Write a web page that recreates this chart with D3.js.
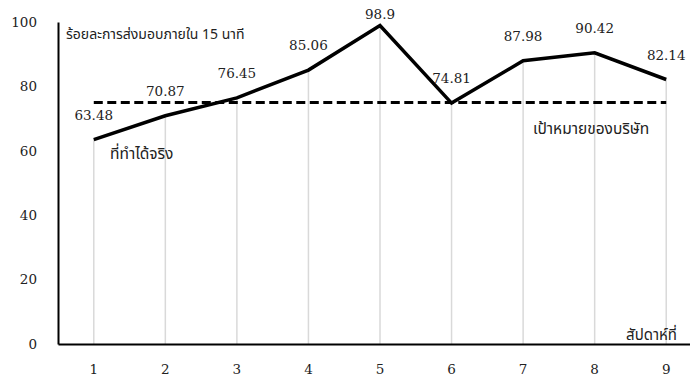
<!DOCTYPE html>
<html><head><meta charset="utf-8">
<script src="https://cdn.jsdelivr.net/npm/d3@7"></script>
<style>body{margin:0;background:#fff}svg{display:block}</style>
</head><body><svg id="c" width="690" height="381"></svg>
<script>
const weeks = [1,2,3,4,5,6,7,8,9];
const actual = [63.48,70.87,76.45,85.06,98.9,74.81,87.98,90.42,82.14];
const target = [75,75,75,75,75,75,75,75,75];
const yTicks = [0,20,40,60,80,100];
const titleText = "ร้อยละการส่งมอบภายใน 15 นาที";
const actualLabel = "ที่ทำได้จริง";
const targetLabel = "เป้าหมายของบริษัท";
const xAxisLabel = "สัปดาห์ที่";

const svg = d3.select("#c");
const numFont = "'DejaVu Serif',serif";
const thaiFont = "'Noto Sans Thai','Noto Sans','Noto Sans CJK SC',sans-serif";
const x = d3.scaleBand().domain(weeks).range([58, 702]).padding(0);
const cx = d => x(d) + x.bandwidth()/2;
const y = d3.scaleLinear().domain([0,100]).range([344, 22]);

// drop lines
svg.append("g").selectAll("line").data(weeks).join("line")
  .attr("x1", (d)=>cx(d)).attr("x2", d=>cx(d))
  .attr("y1", (d,i)=>y(actual[i])).attr("y2", y(0))
  .attr("stroke", "#d9d9d9").attr("stroke-width", 1.5);

// y axis
const ya = svg.append("g").attr("transform","translate(58,0)")
  .call(d3.axisLeft(y).tickValues(yTicks).tickSize(0).tickPadding(21));
ya.select(".domain").attr("stroke","#000").attr("stroke-width",2);
ya.selectAll("text").attr("font-family", numFont).attr("font-size", 13.5).attr("fill","#222");

// x axis
const xa = svg.append("g").attr("transform",`translate(0,${y(0)})`)
  .call(d3.axisBottom(x).tickSize(0).tickPadding(20));
xa.select(".domain").attr("stroke","#000").attr("stroke-width",2);
xa.selectAll("text").attr("font-family", numFont).attr("font-size", 13.5).attr("fill","#222");

// target line
svg.append("path").datum(target)
  .attr("d", d3.line().x((d,i)=>cx(weeks[i])).y(d=>y(d)))
  .attr("fill","none").attr("stroke","#000").attr("stroke-width",3)
  .attr("stroke-dasharray","9,4.5");

// actual line
svg.append("path").datum(actual)
  .attr("d", d3.line().x((d,i)=>cx(weeks[i])).y(d=>y(d)))
  .attr("fill","none").attr("stroke","#000").attr("stroke-width",3.5)
  .attr("stroke-linejoin","miter");

// data labels (kept inside the plot area)
svg.append("g").selectAll("text").data(actual).join("text")
  .attr("x",(d,i)=>cx(weeks[i])).attr("y", d=>Math.max(y(d)-20, 19))
  .attr("text-anchor","middle").attr("font-family", numFont).attr("font-size", 13.5)
  .attr("fill","#222").text(d=>d);

// texts
svg.append("text").attr("x",66).attr("y",39).attr("font-family",thaiFont)
  .attr("font-size",14).attr("fill","#222").text(titleText);
svg.append("text").attr("x",110).attr("y",159).attr("font-family",thaiFont)
  .attr("font-size",15.5).attr("fill","#222").text(actualLabel);
svg.append("text").attr("x",533).attr("y",134).attr("font-family",thaiFont)
  .attr("font-size",15.5).attr("fill","#222").text(targetLabel);
svg.append("text").attr("x",677).attr("y",340).attr("text-anchor","end").attr("font-family",thaiFont)
  .attr("font-size",15).attr("fill","#222").text(xAxisLabel);
</script></body></html>
